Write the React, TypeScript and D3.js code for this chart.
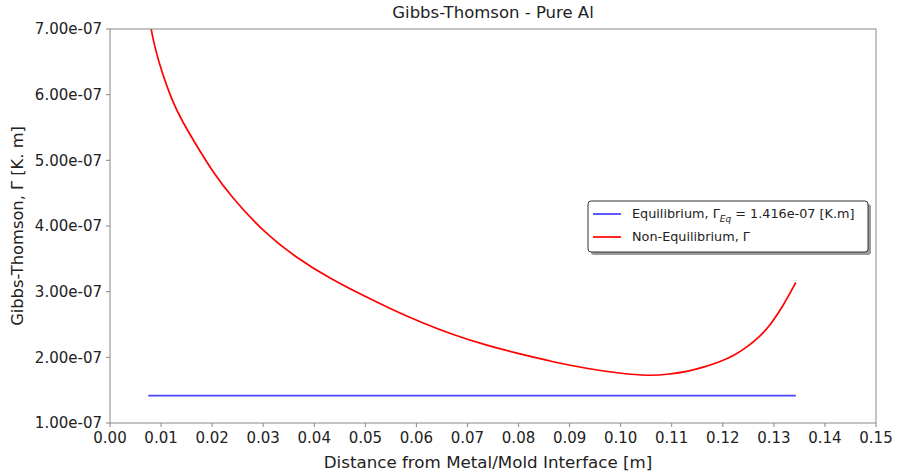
import React from "react";
import * as d3 from "d3";

const xTicks = [0, 0.01, 0.02, 0.03, 0.04, 0.05, 0.06, 0.07, 0.08, 0.09, 0.1, 0.11, 0.12, 0.13, 0.14, 0.15];
const yTicks = [1e-7, 2e-7, 3e-7, 4e-7, 5e-7, 6e-7, 7e-7];
const yTickLabels = ["1.00e-07", "2.00e-07", "3.00e-07", "4.00e-07", "5.00e-07", "6.00e-07", "7.00e-07"];

const eqX = [0.0075, 0.1343];
const eqY = [1.416e-7, 1.416e-7];

const nonEqX = [0.0075, 0.008, 0.0088, 0.0101, 0.0121, 0.014, 0.0176, 0.0202, 0.0235, 0.03, 0.0366, 0.0431, 0.0496, 0.0552, 0.0607, 0.0672, 0.0738, 0.0803, 0.0868, 0.0933, 0.0998, 0.1057, 0.1097, 0.1129, 0.1162, 0.1194, 0.1222, 0.1247, 0.1273, 0.1292, 0.1318, 0.1343];
const nonEqY = [7.3e-7, 7.0e-7, 6.72e-7, 6.35e-7, 5.92e-7, 5.61e-7, 5.14e-7, 4.82e-7, 4.47e-7, 3.91e-7, 3.51e-7, 3.2e-7, 2.94e-7, 2.73e-7, 2.54e-7, 2.34e-7, 2.18e-7, 2.05e-7, 1.93e-7, 1.83e-7, 1.755e-7, 1.716e-7, 1.745e-7, 1.78e-7, 1.848e-7, 1.93e-7, 2.03e-7, 2.15e-7, 2.32e-7, 2.48e-7, 2.78e-7, 3.14e-7];

const W = 897, H = 473;
const L = 110, R = 876, T = 29, B = 423;
const FONT = "'DejaVu Sans', sans-serif";
const AXIS_COLOR = "#888888";

export default function App() {
  const x = d3.scaleLinear().domain([0, 0.15]).range([L, R]);
  const y = d3.scaleLinear().domain([1e-7, 7e-7]).range([B, T]);
  const line = d3.line<[number, number]>().x(d => x(d[0])).y(d => y(d[1])).curve(d3.curveBasis);
  const eqPts: [number, number][] = eqX.map((v, i) => [v, eqY[i]]);
  const nePts: [number, number][] = nonEqX.map((v, i) => [v, nonEqY[i]]);

  const lgX = 588, lgY = 201, lgW = 280, lgH = 51;

  return (
    <svg width={W} height={H} style={{ position: "absolute", left: 0, top: 0, background: "#fff" }} fontFamily={FONT}>
      <defs>
        <clipPath id="plotclip">
          <rect x={L} y={T} width={R - L} height={B - T} />
        </clipPath>
      </defs>
      <rect x={0} y={0} width={W} height={H} fill="#fff" />
      <g clipPath="url(#plotclip)">
        <path d={line(eqPts) || ""} fill="none" stroke="#4848ff" strokeWidth={1.8} />
        <path d={line(nePts) || ""} fill="none" stroke="#ff0000" strokeWidth={1.7} />
      </g>
      <rect x={L} y={T} width={R - L} height={B - T} fill="none" stroke={AXIS_COLOR} strokeWidth={1} />
      {xTicks.map((t, i) => (
        <g key={"x" + i}>
          <line x1={x(t)} x2={x(t)} y1={B} y2={B + 4} stroke={AXIS_COLOR} />
          <text x={x(t)} y={B + 20} textAnchor="middle" fontSize={15} fill="#222">{t.toFixed(2)}</text>
        </g>
      ))}
      {yTicks.map((t, i) => (
        <g key={"y" + i}>
          <line x1={L - 4} x2={L} y1={y(t)} y2={y(t)} stroke={AXIS_COLOR} />
          <text x={L - 8} y={y(t)} dy="0.35em" textAnchor="end" fontSize={15} fill="#222">{yTickLabels[i]}</text>
        </g>
      ))}
      <text x={(L + R) / 2} y={18} textAnchor="middle" fontSize={16.5} fill="#222">Gibbs-Thomson - Pure Al</text>
      <text x={(L + R) / 2 - 5} y={468} textAnchor="middle" fontSize={16.7} fill="#222">Distance from Metal/Mold Interface [m]</text>
      <text transform={`translate(23,${(T + B) / 2}) rotate(-90)`} textAnchor="middle" fontSize={16.3} fill="#222">Gibbs-Thomson, Γ [K. m]</text>
      <g>
        <rect x={lgX + 3} y={lgY + 3} width={lgW} height={lgH} rx={3} fill="#555" opacity={0.6} />
        <rect x={lgX} y={lgY} width={lgW} height={lgH} rx={3} fill="#fff" stroke="#333" strokeWidth={1} />
        <line x1={lgX + 5} x2={lgX + 33} y1={lgY + 13} y2={lgY + 13} stroke="#4848ff" strokeWidth={1.8} />
        <line x1={lgX + 5} x2={lgX + 33} y1={lgY + 36} y2={lgY + 36} stroke="#ff0000" strokeWidth={1.7} />
        <text x={lgX + 44} y={lgY + 13} dy="0.35em" fontSize={12.8} fill="#222">
          Equilibrium, Γ<tspan fontSize={9} fontStyle="italic" dy="4">Eq</tspan><tspan dy="-4"> = 1.416e-07 [K.m]</tspan>
        </text>
        <text x={lgX + 44} y={lgY + 36} dy="0.35em" fontSize={12.8} fill="#222">Non-Equilibrium, Γ</text>
      </g>
    </svg>
  );
}
